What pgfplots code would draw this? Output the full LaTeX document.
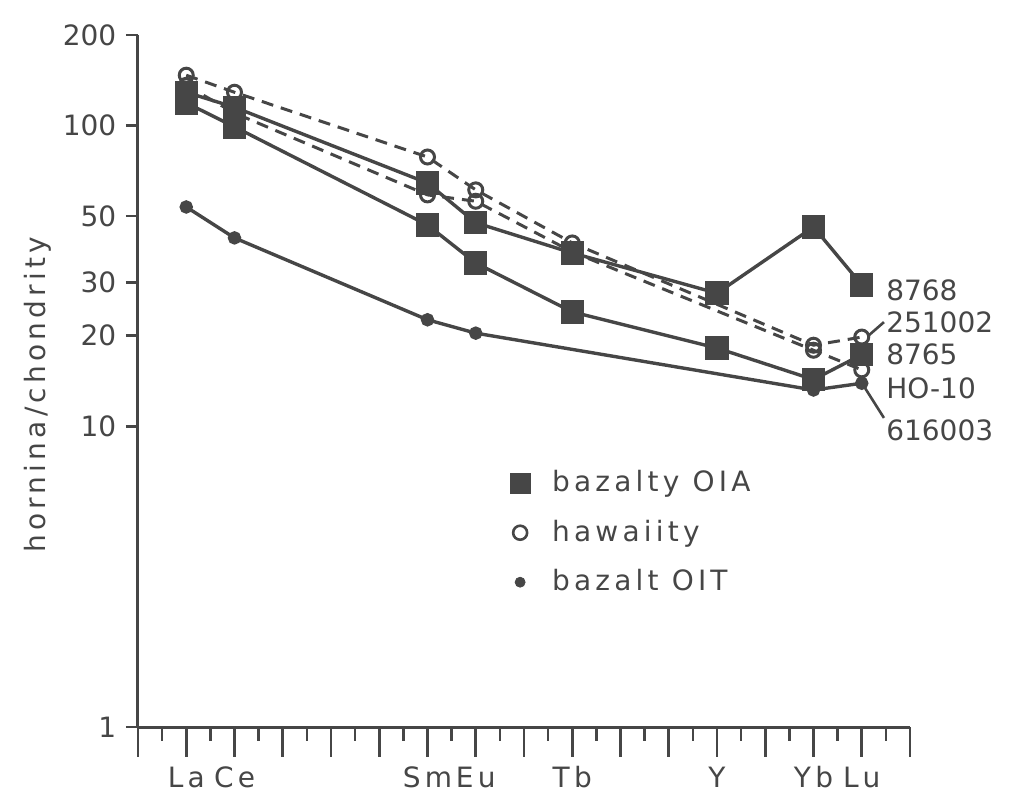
\documentclass[border=0pt]{standalone}
\usepackage{fontspec}
\setmainfont{DejaVu Sans}
\newfontfamily\lbl{DejaVu Sans}[LetterSpace=15]
\usepackage{pgfplots}
\pgfplotsset{compat=1.18}
\definecolor{ink}{RGB}{70,70,70}
\begin{document}
\fontsize{14}{17}\selectfont
\begin{tikzpicture}
\begin{axis}[
  scale only axis, width=386pt, height=346pt,
  xmin=-1, xmax=15, ymode=log, ymin=1, ymax=200,
  axis lines=left, axis line style={ink, line width=1.5pt, -},
  clip=false,
  xtick={-1,...,15},
  xticklabels={,La,Ce,,,,Sm,Eu,,Tb,,,Y,,Yb,Lu,},
  minor xtick={-0.5,0.5,...,14.5},
  xticklabel style={font=\lbl, text=ink},
  ytick=\empty,
  extra y ticks={1,10,20,30,50,100,200},
  extra y tick labels={1,10,20,30,50,100,200},
  extra y tick style={major tick length=6pt, tick align=outside, tick style={ink, line width=1.3pt}},
  yticklabel style={text=ink},
  tick align=outside,
  major tick length=15pt, minor tick length=7pt,
  tick style={ink, line width=1.3pt},
  ylabel={\lbl hornina/chondrity},
  ylabel style={at={(axis description cs:-0.13,0.48)}, anchor=center, text=ink},
  legend style={at={(axis cs:6.58,7.6)}, anchor=north west, draw=none, fill=none, font=\lbl, text=ink, row sep=8pt,
    /tikz/every odd column/.append style={column sep=9pt}},
  legend cell align=left,
]
\coordinate (bl) at (axis cs:-1,1);
\addlegendimage{only marks, mark=square*, mark size=5pt, ink}
\addlegendentry{bazalty OIA}
\addlegendimage{only marks, mark=o, mark size=3.5pt, ink, line width=1.3pt}
\addlegendentry{hawaiity}
\addlegendimage{only marks, mark=*, mark size=2.5pt, ink}
\addlegendentry{bazalt OIT}

% 8768 (bazalty OIA)
\addplot[forget plot, ink, line width=1.7pt, mark=square*, mark size=5pt] coordinates {
 (0,129) (1,115) (5,64.4) (6,47.5) (8,37.7) (11,27.7) (13,46) (14,29.5)};
% 8765 (bazalty OIA)
\addplot[forget plot, ink, line width=1.7pt, mark=square*, mark size=5pt] coordinates {
 (0,119) (1,99) (5,46.7) (6,34.9) (8,24.0) (11,18.2) (13,14.3) (14,17.3)};
% 616003 (bazalt OIT)
\addplot[forget plot, ink, line width=1.7pt, mark=*, mark size=2.5pt] coordinates {
 (0,53.6) (1,42.3) (5,22.6) (6,20.4) (13,13.2) (14,13.9)};
% 251002 (hawaiity)
\addplot[forget plot, ink, line width=1.5pt, dash pattern=on 6pt off 4pt, mark=o, mark size=3.5pt, mark options={solid, fill=white}] coordinates {
 (0,147) (1,129) (5,78.6) (6,61.1) (8,40.7) (13,18.6) (14,19.8)};
% HO-10 (hawaiity)
\addplot[forget plot, ink, line width=1.5pt, dash pattern=on 6pt off 4pt, mark=o, mark size=3.5pt, mark options={solid, fill=white}] coordinates {
 (0,136) (1,110) (5,58.8) (6,56) (8,38) (13,17.9) (14,15.4)};

\draw[ink, line width=1.3pt] (axis cs:14.13,19.96) -- (axis cs:14.46,22.2);
\draw[ink, line width=1.3pt] (axis cs:14.03,13.7) -- (axis cs:14.46,10.66);
\node[anchor=west, inner sep=0pt, text=ink] at (axis cs:14.5,28.4) {8768};
\node[anchor=west, inner sep=0pt, text=ink] at (axis cs:14.5,22.2) {251002};
\node[anchor=west, inner sep=0pt, text=ink] at (axis cs:14.5,17.3) {8765};
\node[anchor=west, inner sep=0pt, text=ink] at (axis cs:14.5,13.4) {HO-10};
\node[anchor=west, inner sep=0pt, text=ink] at (axis cs:14.5,9.72) {616003};
\end{axis}
\pgfresetboundingbox
\path (bl) ++(-69pt,-39pt) rectangle ++(505.5pt,402.5pt);
\end{tikzpicture}
\end{document}
